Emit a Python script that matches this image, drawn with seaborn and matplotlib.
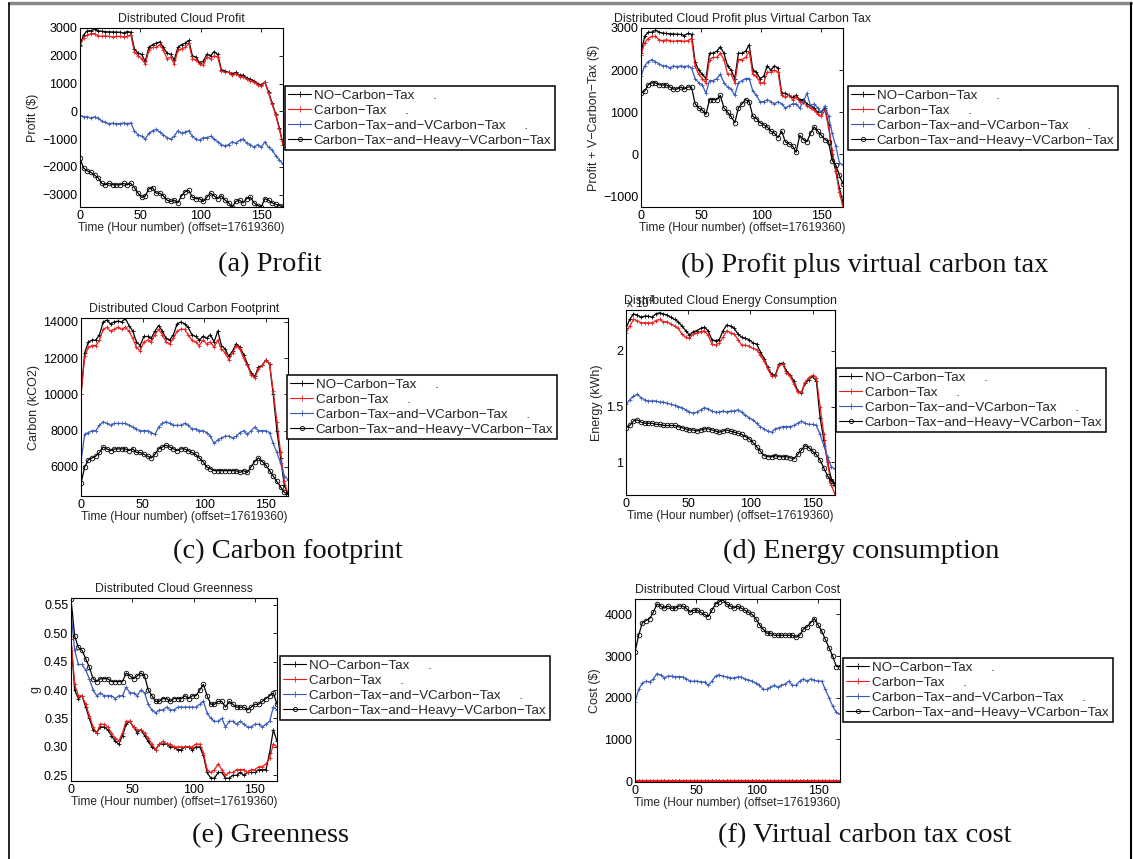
import numpy as np
import pandas as pd
import seaborn as sns
import matplotlib.pyplot as plt
from matplotlib.lines import Line2D
from matplotlib.ticker import FuncFormatter

# hours since offset 17619360, sampled every 3 hours
hours = list(range(0, 169, 3))

policies = ["NO−Carbon−Tax", "Carbon−Tax", "Carbon−Tax−and−VCarbon−Tax",
            "Carbon−Tax−and−Heavy−VCarbon−Tax"]
legend_labels = ["NO−Carbon−Tax     .", "Carbon−Tax     .",
                 "Carbon−Tax−and−VCarbon−Tax     .",
                 "Carbon−Tax−and−Heavy−VCarbon−Tax"]

# (a) profit ($)
profit_no = [2400, 2750, 2900, 2900, 2950, 2900, 2880, 2870, 2860, 2860,
             2850, 2850, 2820, 2870, 2850, 2250, 2100, 2050, 1800, 2300,
             2400, 2450, 2500, 2300, 2100, 2050, 1850, 2300, 2400, 2450,
             2550, 2000, 1950, 1750, 1800, 2050, 2000, 2150, 2050, 1500,
             1450, 1400, 1350, 1400, 1300, 1300, 1200, 1150, 1100, 1000,
             950, 1050, 700, 300, -100, -600, -1200]
profit_ct = [2350, 2650, 2750, 2800, 2800, 2720, 2700, 2720, 2700, 2680,
             2700, 2700, 2680, 2700, 2750, 2150, 2000, 1900, 1700, 2200,
             2300, 2300, 2400, 2200, 1900, 1950, 1700, 2200, 2250, 2300,
             2450, 1900, 1850, 1700, 1650, 1950, 1900, 2000, 1950, 1450,
             1400, 1400, 1300, 1350, 1250, 1250, 1150, 1100, 1050, 950,
             900, 1050, 650, 250, -150, -650, -1200]
profit_vct = [-150, -200, -200, -250, -200, -250, -350, -400, -450, -430,
              -450, -450, -420, -450, -420, -700, -850, -900, -1000, -800,
              -700, -650, -750, -850, -950, -1000, -900, -700, -800, -750,
              -700, -900, -1000, -1050, -950, -950, -900, -1000, -1100, -1200,
              -1250, -1200, -1100, -1150, -1050, -1000, -1150, -1200, -1300, -1200,
              -1300, -1100, -1300, -1400, -1600, -1750, -1900]
profit_heavy = [-1700, -2050, -2150, -2200, -2300, -2400, -2600, -2650, -2600, -2650,
                -2650, -2650, -2600, -2650, -2600, -2750, -2950, -3100, -3050, -2800,
                -2750, -2950, -2950, -3050, -3200, -3250, -3200, -3300, -3050, -2900,
                -2850, -3100, -3150, -3150, -3250, -3100, -2950, -3050, -3150, -3050,
                -3200, -3300, -3450, -3250, -3200, -3300, -3150, -3100, -3300, -3400,
                -3450, -3150, -3200, -3300, -3350, -3400, -3430]

# (b) profit plus virtual carbon tax ($)
pvt_no = [2400, 2800, 2900, 2900, 2950, 2900, 2880, 2870, 2860, 2860,
          2850, 2850, 2820, 2870, 2850, 2200, 2000, 1900, 1800, 2400,
          2400, 2450, 2550, 2400, 2100, 2000, 1800, 2400, 2400, 2450,
          2600, 2000, 1950, 1800, 1850, 2100, 2000, 2100, 2050, 1450,
          1450, 1400, 1350, 1400, 1300, 1300, 1200, 1150, 1100, 1000,
          1000, 1100, 700, 0, -400, -800, -1150]
pvt_ct = [2350, 2650, 2750, 2800, 2800, 2720, 2700, 2720, 2700, 2680,
          2700, 2700, 2680, 2700, 2750, 2100, 1900, 1800, 1700, 2250,
          2300, 2300, 2400, 2250, 1900, 1900, 1700, 2250, 2250, 2300,
          2450, 1900, 1850, 1700, 1700, 1950, 1950, 2000, 1950, 1400,
          1350, 1400, 1300, 1350, 1250, 1250, 1150, 1100, 1050, 950,
          900, 1050, 650, 100, -400, -900, -1250]
pvt_vct = [1850, 2100, 2200, 2250, 2200, 2150, 2100, 2100, 2050, 2100,
           2080, 2100, 2080, 2100, 2050, 1800, 1700, 1650, 1450, 1750,
           1750, 1800, 1900, 1700, 1600, 1550, 1400, 1700, 1750, 1800,
           1800, 1500, 1400, 1250, 1250, 1300, 1250, 1200, 1250, 1200,
           1100, 1150, 1200, 1200, 1100, 1250, 1450, 1150, 1200, 1100,
           1000, 1150, 900, 500, 200, -200, -250]
pvt_heavy = [1450, 1500, 1650, 1700, 1700, 1650, 1650, 1650, 1600, 1550,
             1550, 1600, 1550, 1600, 1600, 1200, 1100, 1050, 950, 1300,
             1300, 1300, 1400, 1100, 1000, 900, 750, 1100, 1200, 1300,
             1250, 900, 850, 750, 700, 650, 550, 500, 400, 550,
             300, 250, 200, 50, 450, 350, 300, 500, 650, 550,
             450, 350, 300, -150, -250, -500, -700]

# (c) carbon footprint (kCO2)
carbon_no = [10000, 12300, 12900, 13000, 13000, 13300, 14000, 14100, 13900, 14000,
             14050, 14000, 14200, 13800, 13500, 12900, 12700, 13200, 13200, 13100,
             13500, 13800, 13500, 13100, 13000, 13300, 13900, 14000, 13900, 13700,
             13300, 13200, 13000, 13200, 13100, 13300, 12900, 13500, 12700, 12500,
             12100, 12400, 12800, 12600, 12200, 11700, 11200, 11000, 11500, 11600,
             11900, 11700, 10000, 8000, 6500, 5000, 4500]
carbon_ct = [10000, 12100, 12600, 12700, 12700, 13000, 13600, 13700, 13500, 13600,
             13700, 13600, 13700, 13500, 13100, 12600, 12400, 12900, 13000, 12900,
             13300, 13600, 13300, 12900, 12800, 13100, 13500, 13600, 13600, 13300,
             13000, 12900, 12700, 13000, 12800, 12900, 12600, 13000, 12500, 12300,
             11900, 12300, 12700, 12500, 12000, 11600, 11100, 10900, 11400, 11600,
             11900, 11700, 10200, 8500, 6800, 5200, 4500]
carbon_vct = [6300, 7800, 7900, 8000, 8000, 8300, 8500, 8400, 8300, 8400,
              8400, 8400, 8400, 8300, 8200, 8100, 8000, 8000, 8000, 7900,
              7800, 8200, 8400, 8500, 8400, 8300, 8300, 8300, 8400, 8300,
              8100, 8100, 8000, 8000, 7900, 7700, 7300, 7500, 7600, 7700,
              7700, 7600, 7700, 7900, 8000, 7800, 8000, 8200, 8000, 8000,
              8000, 7900, 7300, 6800, 6200, 5500, 5300]
carbon_heavy = [5100, 6000, 6400, 6500, 6600, 6800, 7100, 7000, 6900, 7000,
                7000, 7000, 7000, 6900, 7000, 6800, 6800, 6700, 6600, 6500,
                6700, 7000, 7100, 7200, 7100, 7000, 6900, 7000, 7000, 6900,
                6800, 6700, 6500, 6300, 6000, 5900, 5800, 5800, 5800, 5800,
                5800, 5800, 5800, 5700, 5800, 5700, 6000, 6300, 6500, 6300,
                6100, 5800, 5500, 5200, 4900, 4600, 4500]

# (d) energy consumption (kWh)
energy_no = [22000, 22800, 23300, 23200, 23000, 23100, 23100, 23000, 23300, 23400,
             23300, 23200, 23000, 22800, 22600, 22200, 21800, 21400, 21700, 21800,
             22000, 22100, 21800, 21000, 20900, 21000, 21800, 22300, 22200, 22000,
             21500, 21200, 21100, 21000, 20700, 20600, 19900, 19300, 18500, 17900,
             17800, 18800, 18900, 18200, 17800, 17300, 16400, 16200, 17100, 17400,
             17700, 17300, 14000, 12000, 10000, 8500, 8000]
energy_ct = [21600, 22200, 22800, 22700, 22500, 22500, 22500, 22500, 22700, 22800,
             22600, 22600, 22400, 22200, 22000, 21500, 21200, 21100, 21500, 21600,
             21700, 21800, 21400, 20600, 20500, 20700, 21200, 21800, 21600, 21500,
             21000, 20500, 20500, 20400, 20200, 20100, 19600, 19100, 18400, 17700,
             17700, 18700, 18800, 18000, 17700, 17000, 16300, 16300, 17200, 17600,
             17800, 17600, 15000, 12500, 10000, 8000, 7100]
energy_vct = [15200, 15600, 15900, 16100, 15800, 15600, 15500, 15500, 15500, 15400,
              15400, 15300, 15200, 15100, 15000, 14900, 14700, 14500, 14400, 14500,
              14700, 14900, 14800, 14600, 14500, 14500, 14600, 14500, 14600, 14600,
              14700, 14500, 14200, 14000, 13800, 13500, 13200, 13000, 12800, 12700,
              13000, 13100, 13200, 13200, 13200, 13300, 13500, 13700, 13500, 13400,
              13400, 13300, 12500, 11500, 10500, 9600, 9400]
energy_heavy = [13100, 13300, 13700, 13800, 13600, 13500, 13500, 13500, 13400, 13400,
                13300, 13300, 13300, 13300, 13200, 13100, 13000, 12900, 12900, 12800,
                12900, 13000, 13000, 12900, 12800, 12700, 12800, 12900, 12800, 12700,
                12600, 12500, 12300, 12100, 11800, 11400, 11000, 10600, 10500, 10500,
                10600, 10500, 10500, 10500, 10400, 10300, 10700, 11100, 11500, 11300,
                11000, 10700, 10200, 9500, 8800, 8300, 8100]

# (e) greenness g
green_no = [0.49, 0.40, 0.385, 0.39, 0.37, 0.35, 0.33, 0.325, 0.335, 0.335,
            0.33, 0.32, 0.31, 0.305, 0.32, 0.34, 0.345, 0.335, 0.325, 0.33,
            0.32, 0.31, 0.30, 0.295, 0.305, 0.305, 0.305, 0.30, 0.30, 0.295,
            0.295, 0.30, 0.30, 0.295, 0.30, 0.30, 0.285, 0.255, 0.245, 0.245,
            0.255, 0.255, 0.245, 0.245, 0.25, 0.25, 0.255, 0.25, 0.255, 0.255,
            0.255, 0.26, 0.26, 0.26, 0.29, 0.33, 0.31]
green_ct = [0.49, 0.41, 0.39, 0.39, 0.375, 0.355, 0.335, 0.325, 0.34, 0.34,
            0.335, 0.325, 0.315, 0.31, 0.325, 0.345, 0.345, 0.335, 0.33, 0.33,
            0.325, 0.315, 0.305, 0.295, 0.305, 0.31, 0.305, 0.305, 0.30, 0.30,
            0.30, 0.30, 0.30, 0.30, 0.305, 0.305, 0.29, 0.26, 0.255, 0.26,
            0.27, 0.26, 0.25, 0.255, 0.255, 0.26, 0.26, 0.26, 0.255, 0.26,
            0.26, 0.265, 0.265, 0.27, 0.28, 0.305, 0.30]
green_vct = [0.535, 0.47, 0.445, 0.445, 0.435, 0.42, 0.40, 0.39, 0.395, 0.39,
             0.39, 0.39, 0.385, 0.39, 0.39, 0.405, 0.395, 0.395, 0.39, 0.40,
             0.395, 0.375, 0.365, 0.36, 0.365, 0.365, 0.37, 0.365, 0.365, 0.37,
             0.37, 0.37, 0.37, 0.37, 0.37, 0.375, 0.38, 0.36, 0.35, 0.345,
             0.345, 0.35, 0.335, 0.345, 0.345, 0.34, 0.345, 0.34, 0.335, 0.335,
             0.34, 0.34, 0.335, 0.34, 0.345, 0.37, 0.365]
green_heavy = [0.56, 0.495, 0.475, 0.47, 0.455, 0.44, 0.42, 0.415, 0.42, 0.42,
               0.42, 0.415, 0.415, 0.415, 0.415, 0.43, 0.425, 0.42, 0.425, 0.43,
               0.425, 0.40, 0.39, 0.38, 0.38, 0.385, 0.385, 0.38, 0.385, 0.385,
               0.385, 0.39, 0.385, 0.39, 0.39, 0.40, 0.41, 0.39, 0.375, 0.375,
               0.38, 0.38, 0.37, 0.38, 0.375, 0.37, 0.37, 0.37, 0.365, 0.37,
               0.375, 0.375, 0.38, 0.385, 0.39, 0.395, 0.375]

# (f) virtual carbon tax cost ($)
vcost_no = [0, 0, 0, 0, 0, 0, 0, 0, 0, 0,
            0, 0, 0, 0, 0, 0, 0, 0, 0, 0,
            0, 0, 0, 0, 0, 0, 0, 0, 0, 0,
            0, 0, 0, 0, 0, 0, 0, 0, 0, 0,
            0, 0, 0, 0, 0, 0, 0, 0, 0, 0,
            0, 0, 0, 0, 0, 0, 0]
vcost_ct = [0, 0, 0, 0, 0, 0, 0, 0, 0, 0,
            0, 0, 0, 0, 0, 0, 0, 0, 0, 0,
            0, 0, 0, 0, 0, 0, 0, 0, 0, 0,
            0, 0, 0, 0, 0, 0, 0, 0, 0, 0,
            0, 0, 0, 0, 0, 0, 0, 0, 0, 0,
            0, 0, 0, 0, 0, 0, 0]
vcost_vct = [1900, 2200, 2350, 2400, 2380, 2450, 2580, 2550, 2480, 2520,
             2520, 2500, 2510, 2500, 2460, 2400, 2400, 2400, 2380, 2380,
             2300, 2400, 2520, 2550, 2520, 2500, 2480, 2470, 2500, 2500,
             2450, 2430, 2400, 2350, 2300, 2200, 2200, 2250, 2300, 2250,
             2300, 2330, 2400, 2300, 2300, 2400, 2450, 2400, 2450, 2420,
             2400, 2400, 2200, 2000, 1800, 1650, 1600]
vcost_heavy = [3100, 3500, 3800, 3850, 3900, 4050, 4250, 4200, 4150, 4200,
               4150, 4150, 4200, 4200, 4150, 4050, 4100, 4100, 4050, 4000,
               3950, 4100, 4250, 4300, 4350, 4250, 4200, 4150, 4200, 4150,
               4100, 4050, 4000, 3900, 3750, 3650, 3550, 3550, 3500, 3500,
               3500, 3500, 3500, 3500, 3450, 3500, 3650, 3700, 3800, 3900,
               3750, 3600, 3400, 3200, 3000, 2750, 2750]

colors = ["black", "#ee1c1c", "#3a5ab8", "black"]
markers = ["+", "+", "+", "o"]

W, H = 1133, 859
sns.set_style("white")
plt.rcParams["font.family"] = ["Liberation Sans", "DejaVu Sans"]

fig = plt.figure(figsize=(W / 100, H / 100), dpi=100)


def px_rect(left, top, right, bottom):
    return [left / W, 1 - bottom / H, (right - left) / W, (bottom - top) / H]


def draw_panel(rect, series, ylim, title, ylabel, legend_xy):
    ax = fig.add_axes(rect)
    for vals, c, m in zip(series, colors, markers):
        assert len(vals) == len(hours)
        df = pd.DataFrame({"hour": hours, "value": vals})
        sns.lineplot(data=df, x="hour", y="value", ax=ax, color=c, marker=m,
                     markersize=3.3 if m == "o" else 3.2,
                     markerfacecolor="none", markeredgecolor=c,
                     markeredgewidth=0.6, linewidth=0.9)
    ax.set_xlim(0, 168)
    ax.set_ylim(*ylim)
    ax.set_xticks([0, 50, 100, 150])
    ax.set_title(title, fontsize=8.8, pad=4, color="#222222")
    ax.set_xlabel("Time (Hour number) (offset=17619360)", fontsize=8.6, labelpad=0)
    ax.set_ylabel(ylabel, fontsize=9, labelpad=2)
    ax.tick_params(direction="in", top=True, right=True, length=3, width=0.6,
                   labelsize=9, pad=2, colors="black")
    for sp in ax.spines.values():
        sp.set_color("black")
        sp.set_linewidth(0.8)
    handles = [Line2D([], [], color=c, marker=m, markersize=3 if m == "o" else 4,
                      markerfacecolor="none", markeredgewidth=0.6, linewidth=0.8)
               for c, m in zip(colors, markers)]
    leg = ax.legend(handles, legend_labels, loc="upper left",
                    bbox_to_anchor=(legend_xy[0] / W, 1 - legend_xy[1] / H),
                    bbox_transform=fig.transFigure, fontsize=9.6, frameon=True,
                    fancybox=False, edgecolor="black", framealpha=1,
                    borderaxespad=0, borderpad=0.25, labelspacing=0.2,
                    handlelength=1.7, handletextpad=0.2)
    leg.get_frame().set_linewidth(1.1)
    return ax


ax_a = draw_panel(px_rect(80, 28, 283, 207),
                  [profit_no, profit_ct, profit_vct, profit_heavy],
                  (-3450, 3000), "Distributed Cloud Profit", r"Profit (\$)", (285, 86))
ax_b = draw_panel(px_rect(641, 28, 843, 207),
                  [pvt_no, pvt_ct, pvt_vct, pvt_heavy],
                  (-1250, 3000), "Distributed Cloud Profit plus Virtual Carbon Tax",
                  r"Profit + V−Carbon−Tax (\$)", (848, 86))
ax_c = draw_panel(px_rect(81, 318, 288, 496),
                  [carbon_no, carbon_ct, carbon_vct, carbon_heavy],
                  (4400, 14220), "Distributed Cloud Carbon Footprint", "Carbon (kCO2)",
                  (287, 375))
ax_d = draw_panel(px_rect(626, 310, 835, 495),
                  [energy_no, energy_ct, energy_vct, energy_heavy],
                  (7070, 23650), "Distributed Cloud Energy Consumption", "Energy (kWh)",
                  (836, 368))
ax_d.yaxis.set_major_formatter(FuncFormatter(lambda v, p: f"{v / 1e4:g}"))
ax_d.set_yticks([10000, 15000, 20000])
ax_d.title.set_position((0.5, 1.02))
ax_d.text(0.0, 0.995, r"x 10$^{4}$", transform=ax_d.transAxes, fontsize=8.6,
          ha="left", va="bottom")
ax_e = draw_panel(px_rect(71, 598, 277, 781),
                  [green_no, green_ct, green_vct, green_heavy],
                  (0.24, 0.562), "Distributed Cloud Greenness", "g", (280, 656))
ax_e.set_yticks([0.25, 0.3, 0.35, 0.4, 0.45, 0.5, 0.55])
ax_f = draw_panel(px_rect(635, 599, 840, 782),
                  [vcost_no, vcost_ct, vcost_vct, vcost_heavy],
                  (-20, 4370), "Distributed Cloud Virtual Carbon Cost", r"Cost (\$)",
                  (843, 658))
ax_f.set_yticks([0, 1000, 2000, 3000, 4000])
for ln in ax_f.lines[:2]:
    ln.set_linewidth(2.2)

captions = [("(a) Profit", 270, 265), ("(b) Profit plus virtual carbon tax", 865, 265),
            ("(c) Carbon footprint", 288, 551), ("(d) Energy consumption", 861, 551),
            ("(e) Greenness", 270, 836), ("(f) Virtual carbon tax cost", 865, 836)]
for txt, cx, cy in captions:
    fig.text(cx / W, 1 - cy / H, txt, fontsize=20.5, family="Liberation Serif",
             ha="center", va="center", color="#111111")

# page frame
fig.add_artist(Line2D([9 / W, 1131 / W], [1 - 3 / H, 1 - 3 / H], transform=fig.transFigure,
                      color="#888888", linewidth=2.5))
fig.add_artist(Line2D([9 / W, 9 / W], [0, 1 - 3 / H], transform=fig.transFigure,
                      color="black", linewidth=1.2))
fig.add_artist(Line2D([1131 / W, 1131 / W], [0, 1 - 3 / H], transform=fig.transFigure,
                      color="black", linewidth=1.5))

fig.savefig("out.png", dpi=100)
